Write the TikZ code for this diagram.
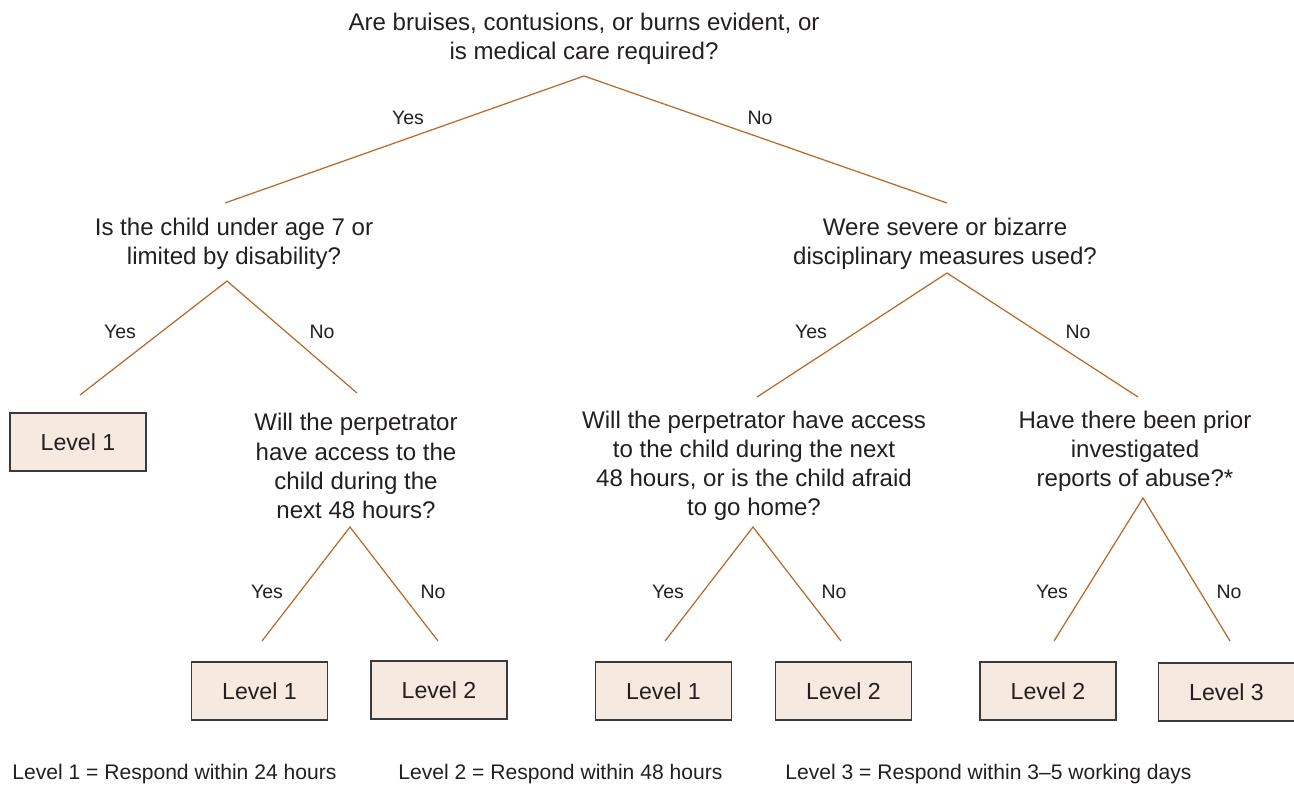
\documentclass[tikz,border=0pt]{standalone}
\usepackage{fontspec}
\setmainfont{Liberation Sans}
\definecolor{branch}{HTML}{B8692A}
\definecolor{boxfill}{HTML}{F6E9DF}
\definecolor{boxline}{HTML}{3A3A3A}
\definecolor{txt}{HTML}{231F20}
\tikzset{
  question/.style={align=center, text=txt, font=\fontsize{13.7}{16.6}\selectfont, inner sep=0pt},
  answer/.style={text=txt, font=\fontsize{11.1}{13}\selectfont, inner sep=0pt},
  levelbox/.style={draw=boxline, fill=boxfill, text=txt, line width=0.8pt, minimum width=2.72cm, minimum height=1.16cm, font=\fontsize{13.2}{15}\selectfont, inner sep=0pt},
  legend/.style={anchor=west, text=txt, font=\fontsize{12}{14}\selectfont, inner sep=0pt},
  branchline/.style={draw=branch, line width=0.7pt}
}
\begin{document}
\begin{tikzpicture}[x=0.02cm, y=-0.02cm]
			\useasboundingbox (0,0) rectangle (1294,785);
			\node[question] (q1) at (584,38.5) {Are bruises, contusions, or burns evident, or\\is medical care required?};
			\node[question] (q2) at (234,243.5) {Is the child under age 7 or\\limited by disability?};
			\node[question] (q3) at (945,243.5) {Were severe or bizarre\\disciplinary measures used?};
			\node[question] (q4) at (356,466) {Will the perpetrator\\have access to the\\child during the\\next 48 hours?};
			\node[question] (q5) at (754,466) {Will the perpetrator have access\\to the child during the next\\48 hours, or is the child afraid\\to go home?};
			\node[question] (q6) at (1135,451) {Have there been prior\\investigated\\reports of abuse?*};
			\node[levelbox] (l1a) at (78,442) {Level 1};
			\node[levelbox] (l1b) at (259.5,691) {Level 1};
			\node[levelbox] (l2a) at (439,690) {Level 2};
			\node[levelbox] (l1c) at (663.5,691) {Level 1};
			\node[levelbox] (l2b) at (843.5,691) {Level 2};
			\node[levelbox] (l2c) at (1048,691) {Level 2};
			\node[levelbox] (l3a) at (1226.5,692) {Level 3};
			\coordinate (t1) at (584,76);
			\coordinate (t2) at (227,281);
			\coordinate (t3) at (947,273);
			\coordinate (t4) at (350,527);
			\coordinate (t5) at (753,527);
			\coordinate (t6) at (1143,498);
			\coordinate (e2) at (225,203);
			\coordinate (e3) at (947,203);
			\coordinate (e1a) at (80,395);
			\coordinate (e4) at (357,393);
			\coordinate (e5) at (757,397);
			\coordinate (e6) at (1138,397);
			\coordinate (e1b) at (262,641);
			\coordinate (e2a) at (438,641);
			\coordinate (e1c) at (665,641);
			\coordinate (e2b) at (841,641);
			\coordinate (e2c) at (1054,641);
			\coordinate (e3a) at (1230,641);
			\draw[branchline] (e2) -- (t1) -- (e3);
			\draw[branchline] (e1a) -- (t2) -- (e4);
			\draw[branchline] (e5) -- (t3) -- (e6);
			\draw[branchline] (e1b) -- (t4) -- (e2a);
			\draw[branchline] (e1c) -- (t5) -- (e2b);
			\draw[branchline] (e2c) -- (t6) -- (e3a);
			\node[answer] (y1) at (408,118) {Yes};
			\node[answer] (n1) at (760,118) {No};
			\node[answer] (y2) at (120,332) {Yes};
			\node[answer] (n2) at (322,332) {No};
			\node[answer] (y3) at (811,332) {Yes};
			\node[answer] (n3) at (1078,332) {No};
			\node[answer] (y4) at (267,592) {Yes};
			\node[answer] (n4) at (433,592) {No};
			\node[answer] (y5) at (668,592) {Yes};
			\node[answer] (n5) at (834,592) {No};
			\node[answer] (y6) at (1052,592) {Yes};
			\node[answer] (n6) at (1229,592) {No};
			\node[legend] (k1) at (12,774.5) {Level 1 = Respond within 24 hours};
			\node[legend] (k2) at (398,774.5) {Level 2 = Respond within 48 hours};
			\node[legend] (k3) at (785,774.5) {Level 3 = Respond within 3--5 working days};
		\end{tikzpicture}
\end{document}
